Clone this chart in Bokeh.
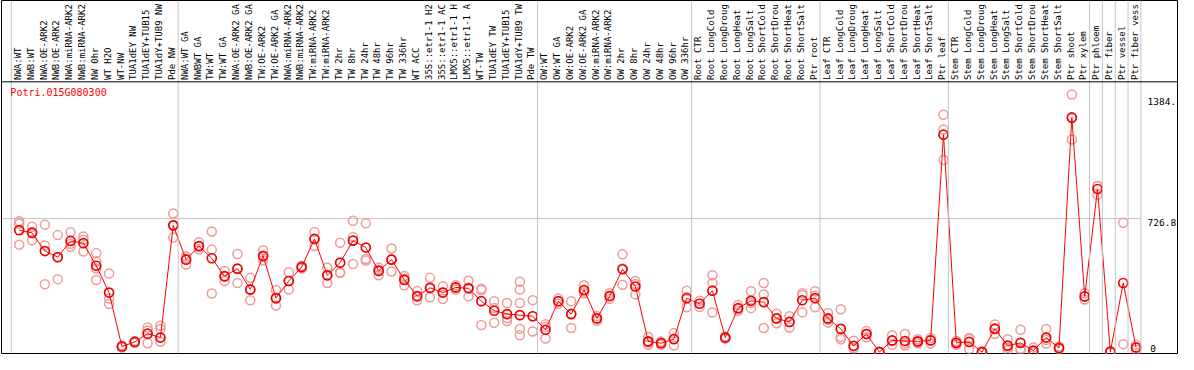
from bokeh.plotting import figure
from bokeh.models import ColumnDataSource, Span, Label, Range1d
from bokeh.embed import file_html
from bokeh.resources import INLINE
from bokeh.core.properties import value

gene = "Potri.015G080300"

categories = [
    "NWA:WT", "NWB:WT", "NWA:OE-ARK2", "NWB:OE-ARK2", "NWA:miRNA-ARK2", "NWB:miRNA-ARK2",
    "NW 0hr", "WT H2O", "WT-NW", "TUA1dEY NW", "TUA1dEY+TUB15", "TUA1dY+TUB9 NW", "Pde NW",
    "NWA:WT GA", "NWBWT GA", "TW:WT", "TW:WT GA", "NWA:OE-ARK2 GA", "NWB:OE-ARK2 GA",
    "TW:OE-ARK2", "TW:OE-ARK2 GA", "NWA:miRNA-ARK2", "NWB:miRNA-ARK2", "TW:miRNA-ARK2",
    "TW:miRNA-ARK2", "TW 2hr", "TW 8hr", "TW 24hr", "TW 48hr", "TW 96hr", "TW 336hr",
    "WT ACC", "35S::etr1-1 H2", "35S::etr1-1 AC", "LMX5::etr1-1 H", "LMX5::etr1-1 A",
    "WT-TW", "TUA1dEY TW", "TUA1dEY+TUB15", "TUA1dY+TUB9 TW", "Pde TW",
    "OW:WT", "OW:WT GA", "OW:OE-ARK2", "OW:OE-ARK2 GA", "OW:miRNA-ARK2", "OW:miRNA-ARK2",
    "OW 2hr", "OW 8hr", "OW 24hr", "OW 48hr", "OW 96hr", "OW 336hr",
    "Root CTR", "Root LongCold", "Root LongDroug", "Root LongHeat", "Root LongSalt",
    "Root ShortCold", "Root ShortDrou", "Root ShortHeat", "Root ShortSalt", "Ptr root",
    "Leaf CTR", "Leaf LongCold", "Leaf LongDroug", "Leaf LongHeat", "Leaf LongSalt",
    "Leaf ShortCold", "Leaf ShortDrou", "Leaf ShortHeat", "Leaf ShortSalt", "Ptr leaf",
    "Stem CTR", "Stem LongCold", "Stem LongDroug", "Stem LongHeat", "Stem LongSalt",
    "Stem ShortCold", "Stem ShortDrou", "Stem ShortHeat", "Stem ShortSalt", "Ptr shoot",
    "Ptr xylem", "Ptr phloem", "Ptr fiber", "Ptr vessel", "Ptr fiber vess",
]

group_sizes = [13, 28, 12, 10, 10, 11, 1, 1, 1, 1]

means = [
    664, 649, 550, 517, 605, 593, 470, 324, 30, 55, 100, 79, 690,
    503, 577, 511, 413, 454, 341, 524, 294, 387, 463, 616, 418, 487, 607, 569, 442, 503,
    393, 305, 350, 324, 352, 347, 277, 225, 207, 201, 195,
    121, 277, 206, 338, 183, 305, 451, 357, 58, 48, 70, 293,
    263, 334, 79, 239, 279, 272, 183, 164, 282, 294,
    183, 126, 34, 98, 0, 63, 60, 58, 63, 1184,
    50, 55, 0, 126, 35, 50, 8, 79, 22, 1278, 303,
    888, 1, 376, 25,
]

replicates = [
    [713, 699, 585], [682, 609, 655], [694, 581, 369], [637, 397, 517], [652, 574, 590],
    [630, 612, 548], [539, 494, 392, 455], [428, 291, 262], [25, 35, 30], [50, 60, 55],
    [134, 48, 118], [143, 126, 56], [755, 624, 690],
    [520, 477, 510], [598, 560, 575], [657, 558, 319], [442, 387, 410], [534, 376, 452],
    [404, 282, 338], [555, 500, 517], [338, 253, 290], [435, 341, 387], [463, 470, 455],
    [654, 577, 616], [460, 376, 418], [595, 435, 430], [715, 480, 626], [701, 499, 507],
    [460, 418, 448], [564, 439, 506], [414, 364, 401], [332, 282, 300], [404, 298, 348],
    [359, 289, 324], [352, 340, 364], [388, 303, 350], [345, 338, 147], [277, 240, 159],
    [267, 185, 169], [383, 340, 267, 126, 91], [282, 112, 195],
    [152, 74, 137], [291, 263, 277], [277, 131, 210], [364, 320, 330], [183, 170, 196],
    [320, 290, 305], [532, 366, 455], [387, 314, 370], [82, 40, 52], [57, 40, 48],
    [103, 35, 72], [334, 244, 300],
    [279, 245, 265], [418, 376, 215], [79, 85, 73], [256, 225, 236], [331, 239, 267],
    [376, 314, 131], [209, 157, 183], [195, 134, 163], [320, 216, 310], [331, 244, 307],
    [213, 160, 176], [233, 82, 70], [62, 20, 20], [114, 80, 100], [0, 3, 0],
    [91, 39, 60], [98, 35, 47], [70, 48, 56], [77, 46, 66], [1293, 1212, 1046],
    [39, 60, 51], [77, 17, 71], [0, 4, 0], [150, 98, 130], [70, 11, 24],
    [121, 11, 18], [25, 0, 0], [126, 46, 65], [30, 15, 20], [1403, 1158, 1273],
    [286, 320, 303],
    [904, 856, 904], [5, 0, 0], [704, 43], [39, 25, 12],
]

tick_values = [0, 726.8, 1384]
tick_labels = ["0", "726.8", "1384."]

# ---------------------------------------------------------------- layout
RED = "#ff0000"
PINK = "#f09a9a"
GREY = "#c4c4c4"
FONT = value("DejaVu Sans Mono")

y_min, y_max = -8, 1915
header_y = 1472
x_min, x_max = -1.38, 90.23

p = figure(width=1178, height=354, output_backend="svg", toolbar_location=None,
           x_range=Range1d(x_min, x_max), y_range=Range1d(y_min, y_max),
           x_axis_type=None, y_axis_type=None, min_border=0,
           min_border_left=1, min_border_right=1, min_border_top=0, min_border_bottom=1)
p.outline_line_color = "black"
p.outline_line_width = 1
p.background_fill_color = "white"
p.border_fill_color = "white"

n = len(categories)
xs = list(range(n))

# group separators (vertical grey lines through header and plot)
bounds = [0]
for g in group_sizes:
    bounds.append(bounds[-1] + g)
for b in bounds:
    p.add_layout(Span(location=b - 0.62, dimension="height", line_color=GREY, line_width=1))

# horizontal grid line at middle tick
mid_tick = tick_values[1]
p.segment(x0=[x_min], x1=[bounds[-1] - 0.62], y0=[mid_tick], y1=[mid_tick],
          line_color=GREY, line_width=1)

# header separator
p.add_layout(Span(location=header_y, dimension="width", line_color="black", line_width=1))

# category labels in header
lab_src = ColumnDataSource(dict(x=[i - 0.1 for i in xs], y=[header_y + 10] * n, t=categories))
p.text(x="x", y="y", text="t", source=lab_src, angle=1.5707963, text_align="left",
       text_baseline="middle", text_font=FONT, text_font_size="9px", text_color="black")

# replicate points
rx, ry = [], []
for i, reps in enumerate(replicates):
    for v in reps:
        rx.append(i)
        ry.append(v)
p.scatter(rx, ry, marker="circle", size=9, fill_color=None, line_color=PINK, line_width=1.5)

# mean line + markers
p.line(xs, means, line_color=RED, line_width=1)
p.scatter(xs, means, marker="circle", size=9, fill_color=None, line_color="#ee0000", line_width=1.7)

# right side value labels
top_src = ColumnDataSource(dict(x=[87.9] * 2, y=tick_values[1:], t=tick_labels[1:]))
p.text(x="x", y="y", text="t", source=top_src, text_align="left", text_baseline="top",
       text_font=FONT, text_font_size="9.5px", text_color="black")
bot_src = ColumnDataSource(dict(x=[88.1], y=tick_values[:1], t=tick_labels[:1]))
p.text(x="x", y="y", text="t", source=bot_src, text_align="left", text_baseline="bottom",
       text_font=FONT, text_font_size="9.5px", text_color="black")

# gene id label
p.add_layout(Label(x=-0.69, y=1412, text=gene, text_color=RED, text_font="DejaVu Sans Mono",
                   text_font_size="10px", text_baseline="middle", text_align="left"))

open("out.html", "w").write(file_html(p, INLINE))
